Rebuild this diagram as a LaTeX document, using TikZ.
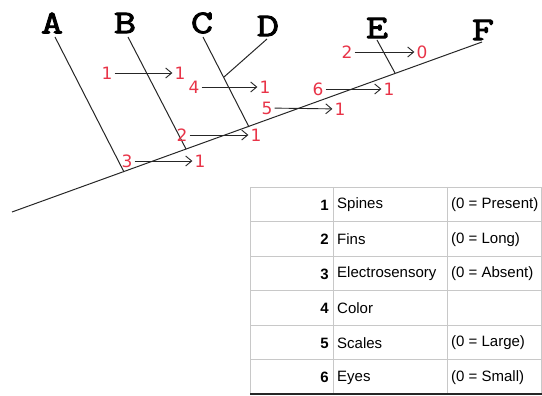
\documentclass[tikz,border=0pt]{standalone}
\usepackage{fontspec}
\setmainfont{Liberation Sans}
\newfontfamily\taxonfont[FakeBold=3,FakeStretch=1.3]{Latin Modern Mono}
\newfontfamily\statefont{DejaVu Sans}
\usetikzlibrary{arrows.meta,positioning}
\definecolor{stateRed}{RGB}{232,52,72}
\definecolor{cellGray}{RGB}{200,200,200}

\begin{document}
\begin{tikzpicture}[
  x=1pt, y=-1pt,
  taxon/.style={font=\taxonfont\fontsize{33}{33}\selectfont, inner sep=0pt},
  state/.style={font=\statefont\fontsize{17}{17}\selectfont, text=stateRed, inner sep=2pt},
  branch/.style={line width=1pt, black!85},
  change/.style={line width=0.9pt, black!85, -{Straight Barb[length=6pt,width=10pt]}},
  cellline/.style={cellGray, line width=0.8pt},
  num/.style={font=\bfseries\fontsize{15}{17}\selectfont, anchor=east, inner sep=0pt},
  cell/.style={font=\fontsize{15}{17}\selectfont, anchor=west, inner sep=0pt}
]
\useasboundingbox (0,0) rectangle (542,396);

\node[taxon] (A) at (52,23) {A};
\node[taxon] (B) at (125,23) {B};
\node[taxon] (C) at (202,23) {C};
\node[taxon] (D) at (268,26) {D};
\node[taxon] (E) at (377,28) {E};
\node[taxon] (F) at (483,30) {F};

\coordinate (root) at (12,212);
\coordinate (tipF) at (482,42);
\coordinate (tipA) at (55,37);
\coordinate (tipB) at (128,37);
\coordinate (tipC) at (203,37);
\coordinate (tipD) at (267,39);
\coordinate (tipE) at (377,40);
\coordinate (nodeA) at (124,172);
\coordinate (nodeB) at (186,149);
\coordinate (nodeC) at (249,127);
\coordinate (nodeD) at (224,77);
\coordinate (nodeE) at (395,73);

\draw[branch] (root) -- (tipF);
\draw[branch] (tipA) -- (nodeA);
\draw[branch] (tipB) -- (nodeB);
\draw[branch] (tipC) -- (nodeC);
\draw[branch] (tipD) -- (nodeD);
\draw[branch] (tipE) -- (nodeE);

\node[state] (s1a) at (107,73) {1};
\node[state] (s1b) at (180,73) {1};
\node[state] (s4a) at (194,87) {4};
\node[state] (s4b) at (265,87) {1};
\node[state] (s5a) at (267,108) {5};
\node[state] (s5b) at (340,109) {1};
\node[state] (s6a) at (318,89) {6};
\node[state] (s6b) at (389,89) {1};
\node[state] (s2a) at (347,52) {2};
\node[state] (s2b) at (422,52) {0};
\node[state] (s7a) at (182,135) {2};
\node[state] (s7b) at (256,135) {1};
\node[state] (s3a) at (127,161) {3};
\node[state] (s3b) at (200,161) {1};

\draw[change] (s1a) -- (s1b);
\draw[change] (s4a) -- (s4b);
\draw[change] (s5a) -- (s5b);
\draw[change] (s6a) -- (s6b);
\draw[change] (s2a) -- (s2b);
\draw[change] (s7a) -- (s7b);
\draw[change] (s3a) -- (s3b);

\draw[cellline] (250,187) rectangle (541,394);
\draw[cellline] (250,221.5) -- (541,221.5);
\draw[cellline] (250,256) -- (541,256);
\draw[cellline] (250,290.5) -- (541,290.5);
\draw[cellline] (250,325) -- (541,325);
\draw[cellline] (250,359.5) -- (541,359.5);
\draw[cellline] (333,187) -- (333,394);
\draw[cellline] (447,187) -- (447,394);
\draw[black!85, line width=2pt] (250,394) -- (542,394);

\node[num] (n1) at (329,205) {1};
\node[num] (n2) at (329,239.5) {2};
\node[num] (n3) at (329,274) {3};
\node[num] (n4) at (329,308.5) {4};
\node[num] (n5) at (329,343) {5};
\node[num] (n6) at (329,377.5) {6};
\node[cell] (c1) at (337,205) {Spines};
\node[cell] (c2) at (337,239.5) {Fins};
\node[cell] (c3) at (337,274) {Electrosensory};
\node[cell] (c4) at (337,308.5) {Color};
\node[cell] (c5) at (337,343) {Scales};
\node[cell] (c6) at (337,377.5) {Eyes};
\node[cell] (v1) at (451,205) {(0 = Present)};
\node[cell] (v2) at (451,239.5) {(0 = Long)};
\node[cell] (v3) at (451,274) {(0 = Absent)};
\node[cell] (v5) at (451,343) {(0 = Large)};
\node[cell] (v6) at (451,377.5) {(0 = Small)};
\end{tikzpicture}
\end{document}
